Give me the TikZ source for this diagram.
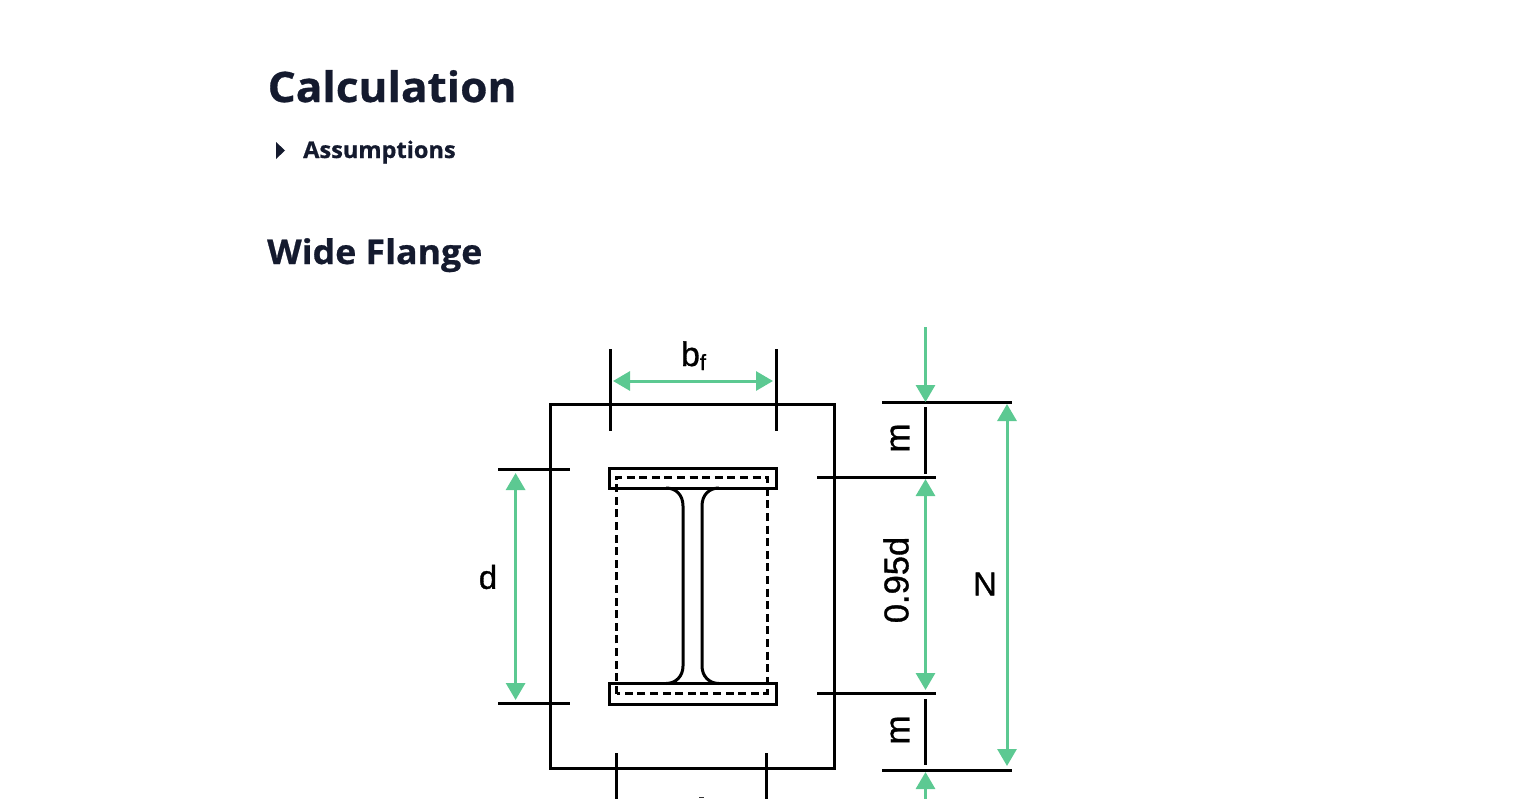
\documentclass[tikz,border=0pt]{standalone}
\usepackage{fontspec}
\setmainfont{Open Sans}
\newfontfamily\labelfont[FakeBold=1.0]{Liberation Sans}
\newfontfamily\headA[BoldFeatures={FakeStretch=1.05,FakeBold=0.7}]{Open Sans}
\newfontfamily\headB[BoldFeatures={FakeStretch=1.025,FakeBold=0.7}]{Open Sans}
\usetikzlibrary{arrows.meta}
\definecolor{inkdark}{HTML}{141A2E}
\definecolor{dimgreen}{HTML}{5CC992}
\tikzset{
  heading/.style={anchor=base west,inner sep=0pt,text=inkdark},
  dimlabel/.style={inner sep=0pt,text=black},
  outline/.style={draw=black,line width=3pt,line join=miter},
  thin dim/.style={draw=black,line width=3pt},
  hidden edge/.style={draw=black,line width=3pt,dash pattern=on 8pt off 4.6pt},
  both dim/.style={draw=dimgreen,line width=3pt,{Triangle[length=17pt,width=19pt,fill=dimgreen]}-{Triangle[length=17pt,width=19pt,fill=dimgreen]}},
  one dim/.style={draw=dimgreen,line width=3pt,-{Triangle[length=17pt,width=19pt,fill=dimgreen]}}
}
\begin{document}
\begin{tikzpicture}[x=1pt,y=-1pt]
\useasboundingbox (0,0) rectangle (1520,798);
\clip (0,0) rectangle (1520,798);
% headings
\node[heading,font=\headA\bfseries\fontsize{42}{42}\selectfont] (calc) at (267.5,102) {Calculation};
\node[heading,font=\headB\bfseries\fontsize{23}{23}\selectfont] (assume) at (303,158) {Assumptions};
\node[heading,font=\headA\bfseries\fontsize{34}{34}\selectfont] (wide) at (267,264) {Wide Flange};
\fill[inkdark] (276,142) -- (285,150.5) -- (276,159) -- cycle;
% outer plate
\draw[outline] (550,404) rectangle (834.5,768.5);
% ticks
\draw[thin dim] (610,349) -- (610,431);
\draw[thin dim] (776,349) -- (776,431);
\draw[thin dim] (498,469) -- (570,469);
\draw[thin dim] (498,703.5) -- (570,703.5);
\draw[thin dim] (817,477) -- (935.5,477);
\draw[thin dim] (817,693.7) -- (935.5,693.7);
\draw[thin dim] (882,402) -- (1011.5,402);
\draw[thin dim] (882,770) -- (1011.5,770);
\draw[thin dim] (925.5,407) -- (925.5,474);
\draw[thin dim] (925.5,699) -- (925.5,765);
\draw[thin dim] (616.5,753) -- (616.5,800);
\draw[thin dim] (766,753) -- (766,800);
% section
\draw[outline] (609.5,468) rectangle (776,488);
\draw[outline] (609.5,683.5) rectangle (776,704);
\draw[outline,line cap=butt] (666,488) .. controls (676,488) and (683,495) .. (683,506) -- (683,666) .. controls (683,676) and (676,683.5) .. (666,683.5);
\draw[outline,line cap=butt] (719,488) .. controls (709,488) and (702,495) .. (702,506) -- (702,666) .. controls (702,676) and (709,683.5) .. (719,683.5);
\draw[hidden edge] (616.5,693.7) rectangle (767,477);
% green dimensions
\draw[both dim] (613,381) -- (773,381);
\draw[both dim] (515.6,473) -- (515.6,700);
\draw[both dim] (925.5,479) -- (925.5,690);
\draw[both dim] (1007,404) -- (1007,766);
\draw[one dim] (925.5,327) -- (925.5,402);
\draw[one dim] (925.5,800) -- (925.5,772);
% labels
\node[dimlabel,font=\labelfont\fontsize{34}{34}\selectfont,anchor=base] (bf) at (693.5,366) {b\raisebox{-4pt}{\fontsize{22}{22}\selectfont f}};
\node[dimlabel,font=\labelfont\fontsize{33}{33}\selectfont] (dl) at (488,577) {d};
\node[dimlabel,font=\labelfont\fontsize{33}{33}\selectfont] (nl) at (985,584) {N};
\node[dimlabel,font=\labelfont\fontsize{34.5}{34.5}\selectfont,rotate=90] (pct) at (896,580) {0.95d};
\node[dimlabel,font=\labelfont\fontsize{35}{35}\selectfont,rotate=90] (m1) at (900,438) {m};
\node[dimlabel,font=\labelfont\fontsize{35}{35}\selectfont,rotate=90] (m2) at (900,730) {m};
\fill[black!80] (699,796.5) rectangle (704,798);
\end{tikzpicture}
\end{document}
